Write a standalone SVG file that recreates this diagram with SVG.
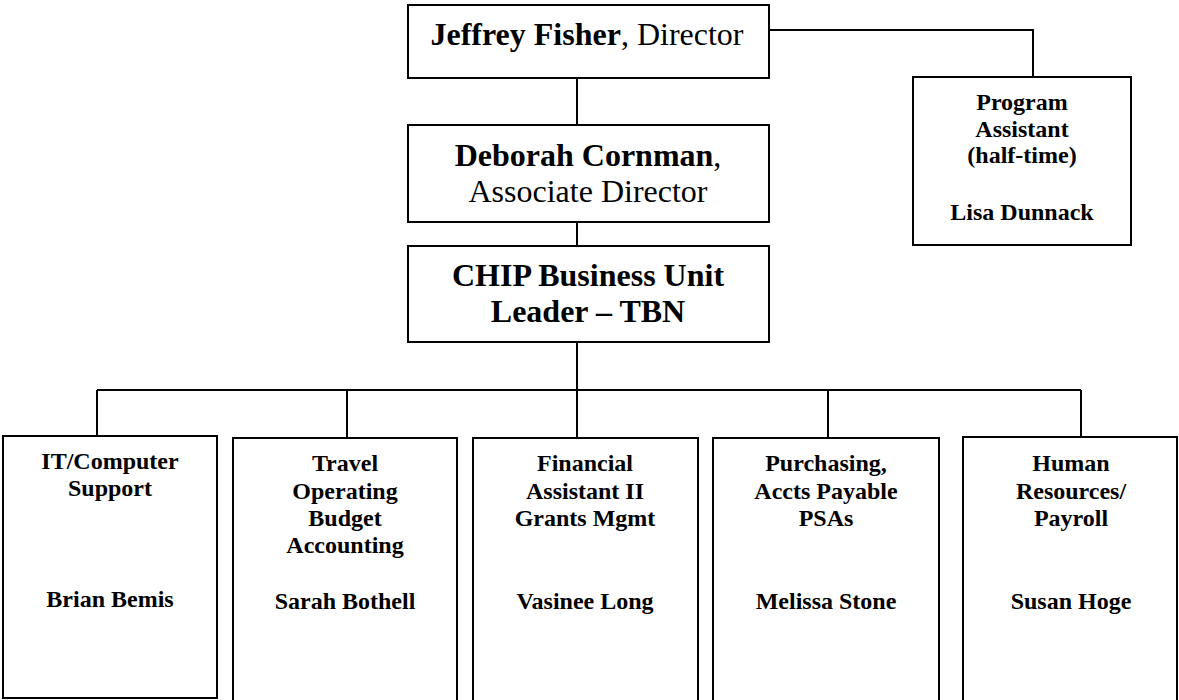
<svg xmlns="http://www.w3.org/2000/svg" width="1179" height="700" viewBox="0 0 1179 700">
<style>
.box{fill:#fff;stroke:#000;stroke-width:2}
.ln{fill:none;stroke:#000;stroke-width:2}
text{font-family:"Liberation Serif","Times New Roman",serif;fill:#000;text-anchor:middle}
.b{font-weight:bold}
.big{font-size:32px}
.sm{font-size:24px;font-weight:bold}
</style>
<rect width="1179" height="700" fill="#fff"/>
<g id="connectors">
<path class="ln" d="M769,30 H1033 V77"/>
<path class="ln" d="M577,78 V125"/>
<path class="ln" d="M577,222 V246"/>
<path class="ln" d="M577,342 V390"/>
<path class="ln" d="M97,390 H1081"/>
<path class="ln" d="M97,390 V436"/>
<path class="ln" d="M347,390 V438"/>
<path class="ln" d="M577,390 V438"/>
<path class="ln" d="M828,390 V438"/>
<path class="ln" d="M1081,390 V437"/>
</g>
<g id="director">
<rect class="box" x="408" y="5" width="361" height="73"/>
<text class="big" x="587" y="45"><tspan class="b">Jeffrey Fisher</tspan>, Director</text>
</g>
<g id="program-assistant">
<rect class="box" x="913" y="77" width="218" height="168"/>
<text class="sm" x="1022" y="110">Program</text>
<text class="sm" x="1022" y="137">Assistant</text>
<text class="sm" x="1022" y="163">(half-time)</text>
<text class="sm" x="1022" y="220">Lisa Dunnack</text>
</g>
<g id="associate-director">
<rect class="box" x="408" y="125" width="361" height="97"/>
<text class="big b" x="588" y="166">Deborah Cornman<tspan font-weight="normal">,</tspan></text>
<text class="big" x="588" y="202">Associate Director</text>
</g>
<g id="chip-leader">
<rect class="box" x="408" y="246" width="361" height="96"/>
<text class="big b" x="588" y="286">CHIP Business Unit</text>
<text class="big b" x="588" y="322">Leader – TBN</text>
</g>
<g id="it-support">
<rect class="box" x="3" y="436" width="214" height="262"/>
<text class="sm" x="110" y="469">IT/Computer</text>
<text class="sm" x="110" y="496">Support</text>
<text class="sm" x="110" y="607">Brian Bemis</text>
</g>
<g id="travel">
<rect class="box" x="233" y="438" width="224" height="280"/>
<text class="sm" x="345" y="471">Travel</text>
<text class="sm" x="345" y="499">Operating</text>
<text class="sm" x="345" y="526">Budget</text>
<text class="sm" x="345" y="553">Accounting</text>
<text class="sm" x="345" y="609">Sarah Bothell</text>
</g>
<g id="financial">
<rect class="box" x="473" y="438" width="225" height="280"/>
<text class="sm" x="585" y="471">Financial</text>
<text class="sm" x="585" y="499">Assistant II</text>
<text class="sm" x="585" y="526">Grants Mgmt</text>
<text class="sm" x="585" y="609">Vasinee Long</text>
</g>
<g id="purchasing">
<rect class="box" x="713" y="438" width="226" height="280"/>
<text class="sm" x="826" y="471">Purchasing,</text>
<text class="sm" x="826" y="499">Accts Payable</text>
<text class="sm" x="826" y="526">PSAs</text>
<text class="sm" x="826" y="609">Melissa Stone</text>
</g>
<g id="hr">
<rect class="box" x="963" y="437" width="214" height="280"/>
<text class="sm" x="1071" y="471">Human</text>
<text class="sm" x="1071" y="499">Resources/</text>
<text class="sm" x="1071" y="526">Payroll</text>
<text class="sm" x="1071" y="609">Susan Hoge</text>
</g>
</svg>
